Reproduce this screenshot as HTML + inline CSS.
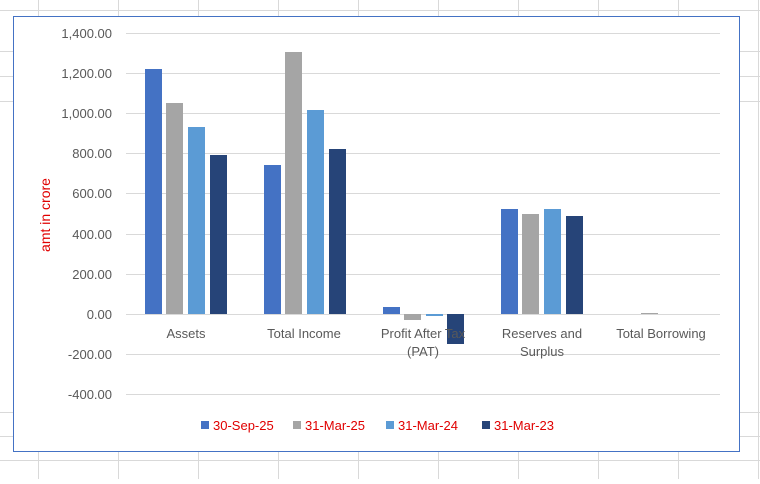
<!DOCTYPE html>
<html><head><style>
body{margin:0;background:#fff;}
svg text{font-family:"Liberation Sans",Calibri,sans-serif;}
</style></head><body>
<svg width="760" height="479" xmlns="http://www.w3.org/2000/svg">
<g stroke="#d9d9d9" stroke-width="1">
<line x1="38.5" y1="0" x2="38.5" y2="479"/><line x1="118.5" y1="0" x2="118.5" y2="479"/><line x1="198.5" y1="0" x2="198.5" y2="479"/><line x1="278.5" y1="0" x2="278.5" y2="479"/><line x1="358.5" y1="0" x2="358.5" y2="479"/><line x1="438.5" y1="0" x2="438.5" y2="479"/><line x1="518.5" y1="0" x2="518.5" y2="479"/><line x1="598.5" y1="0" x2="598.5" y2="479"/><line x1="678.5" y1="0" x2="678.5" y2="479"/><line x1="758.5" y1="0" x2="758.5" y2="479"/>
<line x1="0" y1="10.5" x2="760" y2="10.5"/><line x1="0" y1="51.5" x2="760" y2="51.5"/><line x1="0" y1="76.5" x2="760" y2="76.5"/><line x1="0" y1="101.5" x2="760" y2="101.5"/>
<line x1="0" y1="412.5" x2="760" y2="412.5"/><line x1="0" y1="436.5" x2="760" y2="436.5"/><line x1="0" y1="460.5" x2="760" y2="460.5"/>
</g>
<rect x="13.5" y="16.5" width="726" height="435" fill="#fff" stroke="#4472c4" stroke-width="1"/>
<g stroke="#d9d9d9" stroke-width="1">
<line x1="126" y1="33.5" x2="720" y2="33.5"/><line x1="126" y1="73.5" x2="720" y2="73.5"/><line x1="126" y1="113.5" x2="720" y2="113.5"/><line x1="126" y1="153.5" x2="720" y2="153.5"/><line x1="126" y1="193.5" x2="720" y2="193.5"/><line x1="126" y1="234.5" x2="720" y2="234.5"/><line x1="126" y1="274.5" x2="720" y2="274.5"/><line x1="126" y1="314.5" x2="720" y2="314.5"/><line x1="126" y1="354.5" x2="720" y2="354.5"/><line x1="126" y1="394.5" x2="720" y2="394.5"/>
</g>
<g font-size="13" fill="#595959" text-anchor="end">
<text x="112" y="38">1,400.00</text><text x="112" y="78">1,200.00</text><text x="112" y="118">1,000.00</text><text x="112" y="158">800.00</text><text x="112" y="198">600.00</text><text x="112" y="239">400.00</text><text x="112" y="279">200.00</text><text x="112" y="319">0.00</text><text x="112" y="359">-200.00</text><text x="112" y="399">-400.00</text>
</g>
<text transform="translate(50,215) rotate(-90)" font-size="14" fill="#e00000" text-anchor="middle">amt in crore</text>
<!-- bars -->
<g>
<rect x="145" y="69" width="17" height="245" fill="#4472c4"/>
<rect x="166" y="103" width="17" height="211" fill="#a5a5a5"/>
<rect x="188" y="127" width="17" height="187" fill="#5b9bd5"/>
<rect x="210" y="155" width="17" height="159" fill="#264478"/>
<rect x="264" y="165" width="17" height="149" fill="#4472c4"/>
<rect x="285" y="52" width="17" height="262" fill="#a5a5a5"/>
<rect x="307" y="110" width="17" height="204" fill="#5b9bd5"/>
<rect x="329" y="149" width="17" height="165" fill="#264478"/>
<rect x="383" y="307" width="17" height="7" fill="#4472c4"/>
<rect x="404" y="314" width="17" height="6" fill="#a5a5a5"/>
<rect x="426" y="314" width="17" height="2" fill="#5b9bd5"/>
<rect x="447" y="314" width="17" height="30" fill="#264478"/>
<rect x="501" y="209" width="17" height="105" fill="#4472c4"/>
<rect x="522" y="214" width="17" height="100" fill="#a5a5a5"/>
<rect x="544" y="209" width="17" height="105" fill="#5b9bd5"/>
<rect x="566" y="216" width="17" height="98" fill="#264478"/>
<rect x="641" y="313" width="17" height="1" fill="#a5a5a5"/>
</g>
<g font-size="13" fill="#595959" text-anchor="middle">
<text x="186" y="338">Assets</text>
<text x="304" y="338">Total Income</text>
<text x="423" y="338">Profit After Tax</text><text x="423" y="356">(PAT)</text>
<text x="542" y="338">Reserves and</text><text x="542" y="356">Surplus</text>
<text x="661" y="338">Total Borrowing</text>
</g>
<g font-size="13" fill="#e00000">
<rect x="201" y="421" width="8" height="8" fill="#4472c4"/><text x="213" y="430">30-Sep-25</text>
<rect x="293" y="421" width="8" height="8" fill="#a5a5a5"/><text x="305" y="430">31-Mar-25</text>
<rect x="386" y="421" width="8" height="8" fill="#5b9bd5"/><text x="398" y="430">31-Mar-24</text>
<rect x="482" y="421" width="8" height="8" fill="#264478"/><text x="494" y="430">31-Mar-23</text>
</g>
</svg>
</body></html>
